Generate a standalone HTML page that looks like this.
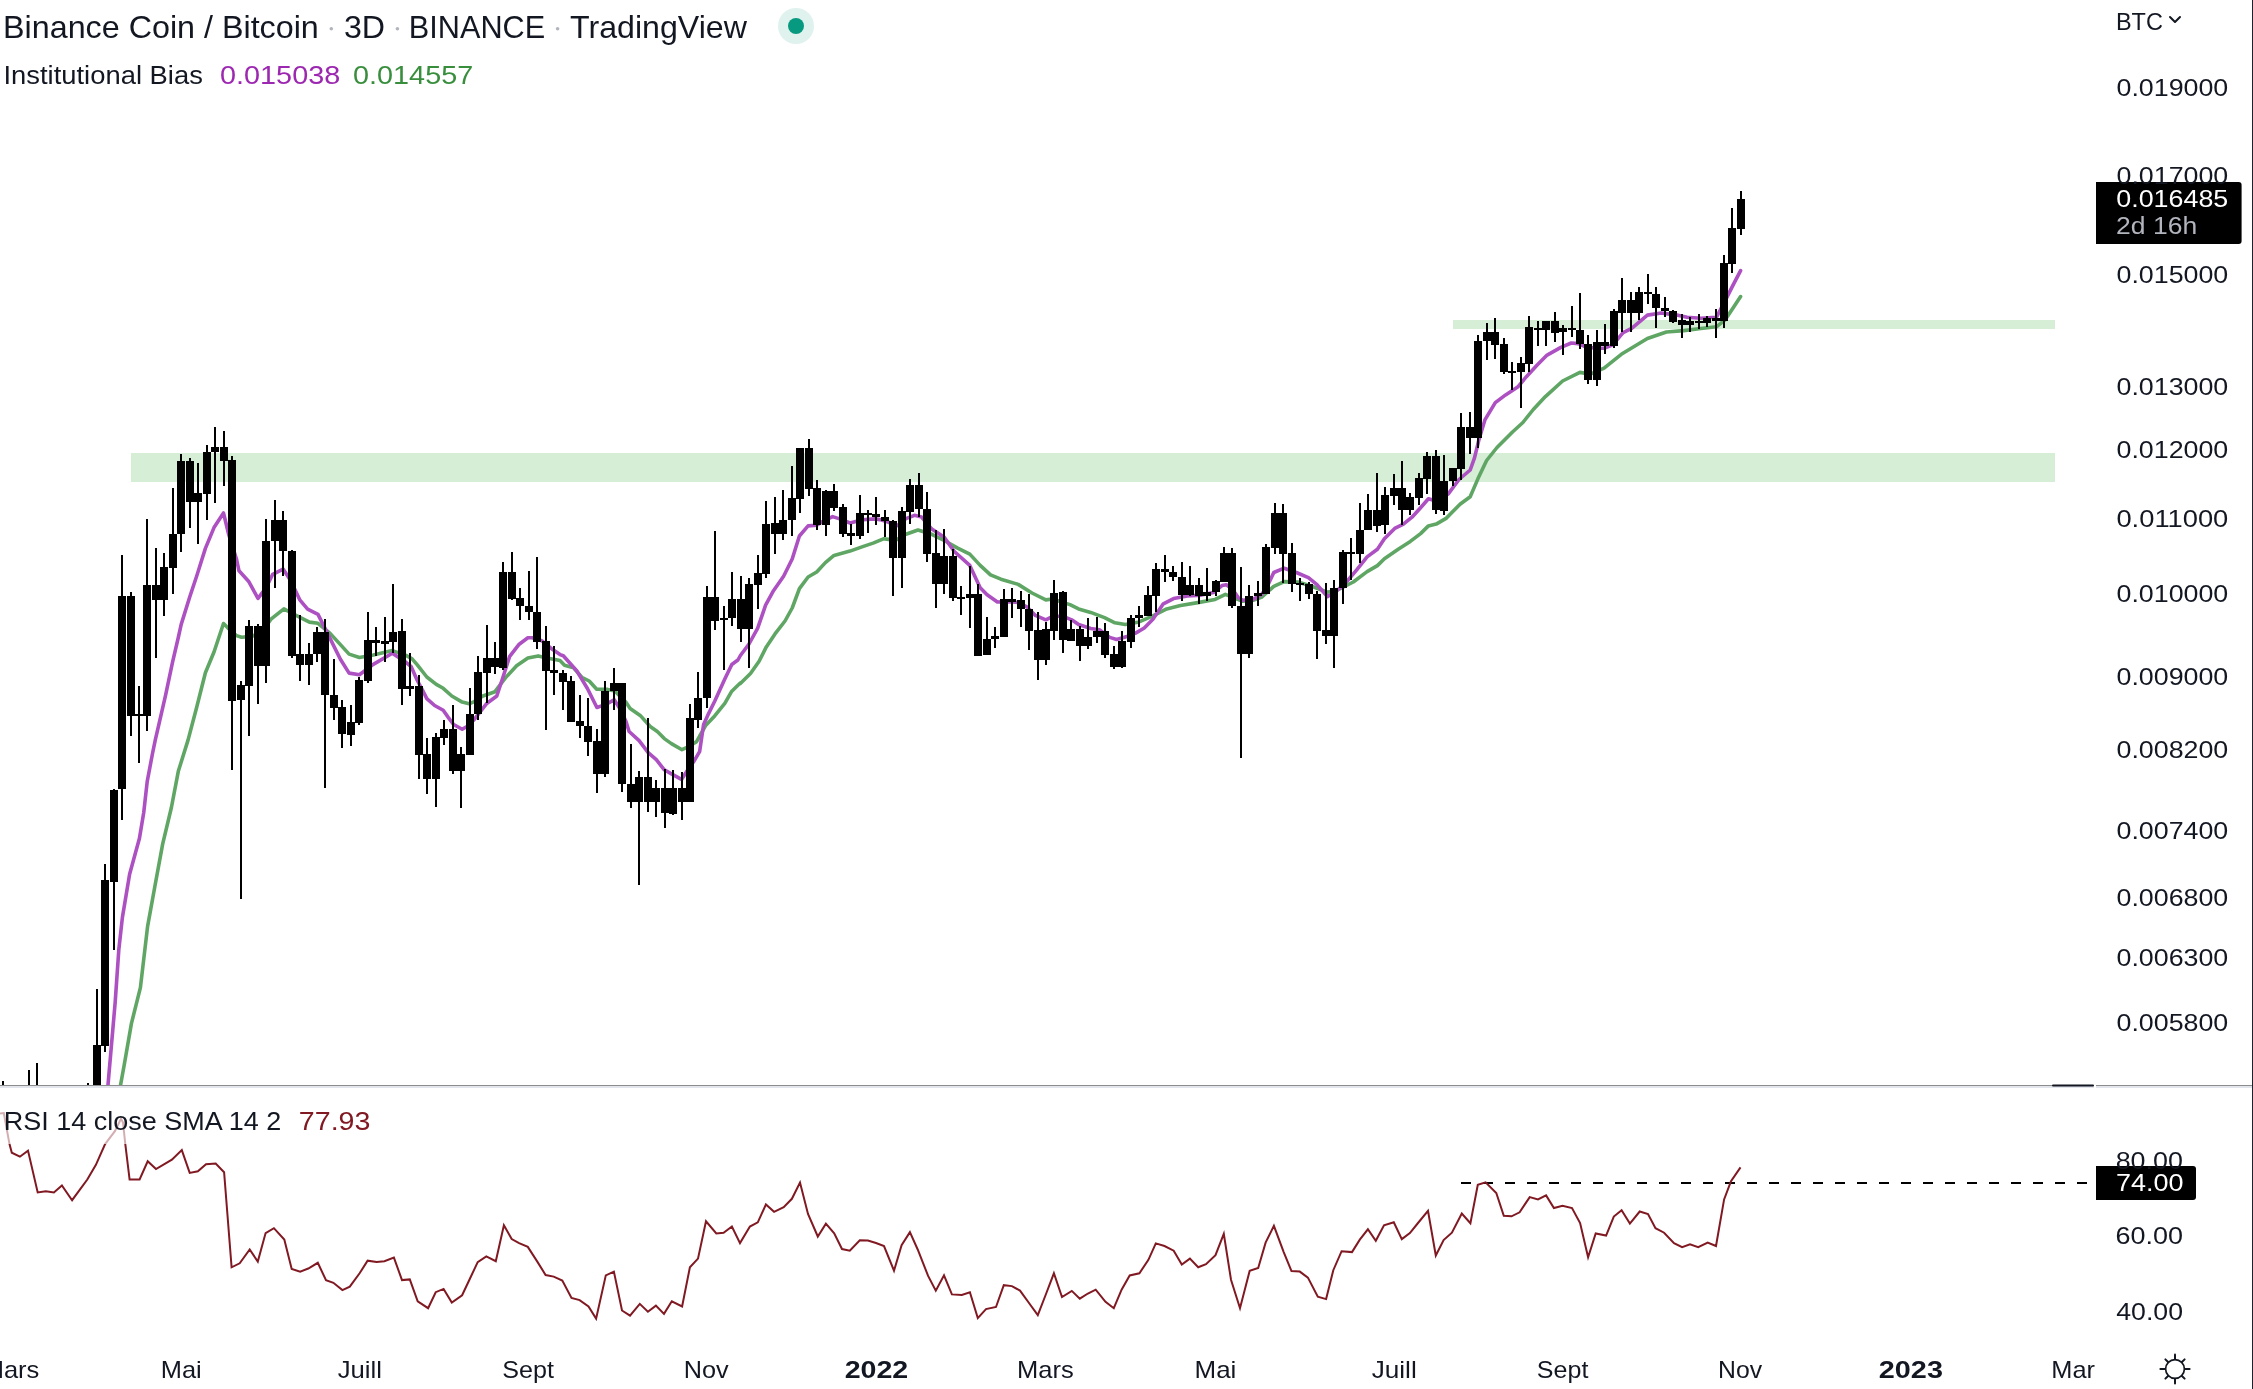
<!DOCTYPE html>
<html><head><meta charset="utf-8"><title>Binance Coin / Bitcoin 3D BINANCE TradingView</title>
<style>html,body{margin:0;padding:0;background:#ffffff;}body{width:2253px;height:1389px;overflow:hidden;position:relative;}svg{position:absolute;left:0;top:0;display:block;will-change:transform;}text{font-family:"Liberation Sans", Arial, sans-serif;}</style>
</head><body>
<svg width="2253" height="1389" viewBox="0 0 2253 1389">
<rect x="0" y="0" width="2253" height="1389" fill="#ffffff"/>
<rect x="131" y="453" width="1924" height="29" fill="#D6EDD6"/>
<rect x="1453" y="320" width="602" height="9" fill="#D6EDD6"/>
<defs><clipPath id="mainclip"><rect x="0" y="0" width="2095" height="1085"/></clipPath><clipPath id="rsiclip"><rect x="0" y="1087" width="2095" height="255"/></clipPath></defs>
<g clip-path="url(#mainclip)">
<polyline points="120.6,1084.8 124.2,1065.0 131.4,1023.6 140.4,987.6 147.6,926.4 154.8,886.8 162.7,843.8 171.4,807.5 178.3,771.3 188.1,739.9 196.7,707.3 205.4,672.7 214.0,652.0 223.5,623.5 227.8,627.8 236.4,635.6 241.6,637.3 252.0,636.4 262.3,631.3 271.0,619.2 283.9,608.8 293.4,614.0 300.0,617.4 309.4,622.1 318.0,623.3 330.1,633.4 349.1,654.1 359.4,657.5 373.3,654.9 392.3,650.6 406.0,655.4 412.1,658.9 417.3,664.9 426.8,677.0 436.3,684.4 443.2,688.3 451.8,696.0 462.2,702.1 469.1,703.8 474.3,701.6 482.9,696.0 495.0,691.7 505.4,677.9 516.6,665.8 527.9,658.0 538.2,655.9 546.9,658.0 560.0,660.6 564.5,665.2 573.6,667.8 581.8,677.3 589.2,681.0 596.7,689.2 607.7,689.4 614.8,691.1 626.0,702.3 630.1,708.4 640.2,715.4 650.2,726.5 657.3,731.5 664.3,738.6 671.4,743.6 682.0,749.7 686.5,747.7 696.6,741.6 705.6,725.5 714.7,715.9 724.8,703.3 731.8,691.2 740.0,683.2 740.4,683.6 750.5,673.5 759.1,661.3 766.3,646.9 775.0,633.9 785.0,621.0 792.2,608.0 799.4,588.6 808.1,577.0 816.7,572.0 825.4,562.6 834.0,555.4 850.0,551.1 862.7,546.6 873.1,543.1 883.4,538.8 888.6,539.4 897.3,539.4 905.9,534.3 918.0,530.0 931.8,534.3 945.6,541.2 957.7,548.1 969.8,554.1 980.2,565.4 990.5,574.9 1000.9,579.2 1018.2,584.4 1032.0,593.0 1045.8,599.9 1052.7,599.0 1063.1,602.5 1070.0,604.6 1078.6,608.9 1090.7,612.4 1104.5,617.6 1114.9,622.8 1125.3,624.5 1139.1,621.9 1152.9,615.9 1166.7,608.9 1180.5,605.5 1197.8,602.6 1215.1,599.4 1225.4,594.3 1235.8,598.6 1242.7,601.2 1253.1,600.3 1262.0,597.0 1273.8,586.3 1284.2,581.6 1298.0,582.0 1311.8,586.3 1327.4,592.3 1337.7,589.8 1353.3,582.0 1367.1,571.6 1377.4,565.6 1384.4,558.7 1398.2,549.2 1410.3,541.4 1420.6,533.6 1428.4,525.9 1436.2,524.1 1446.5,518.1 1452.1,512.3 1460.0,504.3 1470.2,496.8 1478.0,478.6 1486.6,460.5 1497.0,447.5 1512.5,432.0 1522.9,422.5 1533.3,409.5 1545.4,396.6 1562.6,381.0 1579.9,372.4 1590.3,374.1 1604.1,368.1 1621.3,354.3 1647.4,338.5 1666.4,332.0 1683.6,330.6 1700.9,328.5 1716.4,326.8 1725.1,319.9 1733.7,306.9 1740.6,296.6" fill="none" stroke="#5FA664" stroke-width="3.6" stroke-linejoin="round" stroke-linecap="round"/>
<polyline points="108.0,1084.8 115.2,1002.0 118.8,949.8 122.4,917.4 129.6,874.2 139.4,838.6 143.7,812.7 147.2,781.6 152.4,754.0 155.3,739.9 159.3,722.7 165.6,695.2 172.5,662.3 178.3,637.5 181.2,624.4 189.8,596.7 196.7,576.0 205.4,548.4 214.0,527.6 223.5,513.0 228.7,534.5 236.4,558.7 239.0,570.8 248.5,581.2 258.0,598.4 265.8,588.1 272.7,574.3 283.1,569.1 290.0,579.4 300.0,600.2 307.6,609.2 318.0,614.4 328.4,635.1 340.4,659.3 349.1,673.1 359.4,674.8 373.3,664.4 392.3,653.2 406.0,662.3 411.2,666.7 417.3,680.5 422.5,690.0 426.8,698.6 434.6,705.5 443.2,710.3 448.4,717.6 453.6,724.5 462.2,729.3 467.4,726.3 474.3,719.4 480.3,711.6 486.4,703.8 496.8,696.0 501.9,680.5 509.7,656.3 519.2,644.2 527.9,637.7 532.2,637.7 541.7,640.7 551.2,648.5 560.0,654.6 563.3,655.7 577.1,671.3 587.4,688.5 596.9,707.5 604.7,704.9 614.2,699.8 620.3,709.3 626.0,721.5 629.1,731.5 639.1,740.6 648.2,752.7 656.3,759.7 664.3,769.8 671.4,773.9 681.5,779.4 688.5,768.8 693.6,761.8 699.6,751.7 703.6,724.5 707.7,715.4 714.7,701.3 724.8,679.1 731.8,664.5 737.9,660.0 740.4,655.5 749.0,644.0 757.7,628.2 765.6,605.1 773.5,590.7 783.6,576.3 792.2,559.0 799.4,536.0 808.1,525.9 816.7,525.2 822.5,521.6 832.6,516.6 841.2,519.4 850.0,523.0 862.7,519.8 874.8,518.9 880.0,519.6 888.6,522.2 897.3,525.6 905.9,518.7 914.5,515.3 921.5,517.0 931.8,529.1 943.9,536.9 954.3,551.5 969.8,565.4 980.2,587.8 987.1,594.7 997.4,602.0 1009.5,601.6 1018.2,602.5 1026.8,606.8 1035.4,615.4 1045.8,619.8 1052.7,616.3 1063.1,616.3 1071.7,619.8 1078.6,624.5 1090.7,628.5 1099.4,629.7 1109.7,637.4 1116.6,639.5 1127.0,636.6 1135.6,633.1 1144.3,628.0 1152.9,619.3 1163.3,603.8 1173.6,598.6 1187.4,596.0 1201.3,595.1 1213.4,592.5 1222.0,585.6 1226.3,584.8 1232.3,589.1 1238.4,597.7 1242.7,600.3 1253.1,599.4 1261.7,594.3 1266.9,587.2 1273.8,572.5 1284.2,568.2 1296.3,572.5 1308.4,577.7 1317.0,584.6 1327.4,596.7 1336.0,591.5 1346.4,582.0 1356.7,569.9 1367.1,556.9 1377.4,549.2 1384.4,538.8 1394.7,528.4 1403.4,524.1 1412.0,517.2 1420.6,507.7 1428.4,498.7 1432.7,500.0 1439.6,499.1 1448.3,493.9 1459.0,479.5 1470.2,470.0 1474.5,457.9 1478.9,439.8 1484.9,419.9 1495.3,402.6 1505.6,394.9 1517.7,387.1 1526.4,376.7 1536.7,365.5 1547.1,355.1 1560.9,347.4 1571.3,343.0 1578.2,343.6 1585.1,346.5 1595.4,348.2 1604.0,348.2 1612.7,344.8 1623.1,332.7 1631.7,328.4 1647.4,315.1 1661.2,313.0 1676.7,315.1 1687.1,317.3 1700.9,318.2 1716.4,317.3 1725.1,300.9 1732.0,287.1 1740.6,270.7" fill="none" stroke="#AD50C2" stroke-width="3.6" stroke-linejoin="round" stroke-linecap="round"/>
<path d="M1740 191h2v8h-2zM1740 229h2v6h-2zM1737 199h8v30h-8zM1731 208h2v20h-2zM1731 264h2v9h-2zM1728 228h8v36h-8zM1723 255h2v8h-2zM1723 321h2v7h-2zM1720 263h8v58h-8zM1715 309h2v9h-2zM1715 321h2v17h-2zM1712 318h8v3h-8zM1706 316h2v2h-2zM1706 323h2v4h-2zM1703 318h8v5h-8zM1698 314h2v7h-2zM1698 323h2v6h-2zM1695 321h8v2h-8zM1689 317h2v4h-2zM1689 325h2v7h-2zM1686 321h8v4h-8zM1681 314h2v6h-2zM1681 325h2v13h-2zM1678 320h8v5h-8zM1672 310h2v1h-2zM1672 322h2v1h-2zM1669 311h8v11h-8zM1664 297h2v11h-2zM1664 311h2v6h-2zM1661 308h8v3h-8zM1655 287h2v7h-2zM1655 308h2v20h-2zM1652 294h8v14h-8zM1647 274h2v18h-2zM1647 294h2v10h-2zM1644 292h8v2h-8zM1638 287h2v5h-2zM1638 313h2v7h-2zM1635 292h8v21h-8zM1630 292h2v8h-2zM1630 313h2v19h-2zM1627 300h8v13h-8zM1621 278h2v22h-2zM1621 313h2v19h-2zM1618 300h8v13h-8zM1613 309h2v2h-2zM1613 346h2v2h-2zM1610 311h8v35h-8zM1604 324h2v18h-2zM1604 346h2v8h-2zM1601 342h8v4h-8zM1596 330h2v12h-2zM1596 380h2v6h-2zM1593 342h8v38h-8zM1587 335h2v9h-2zM1587 380h2v4h-2zM1584 344h8v36h-8zM1579 293h2v37h-2zM1579 344h2v5h-2zM1576 330h8v14h-8zM1571 306h2v22h-2zM1571 330h2v7h-2zM1568 328h8v2h-8zM1562 325h2v3h-2zM1562 332h2v23h-2zM1559 328h8v4h-8zM1554 312h2v9h-2zM1554 333h2v9h-2zM1551 321h8v12h-8zM1545 330h2v16h-2zM1542 321h8v9h-8zM1537 321h2v7h-2zM1537 330h2v16h-2zM1534 328h8v2h-8zM1528 316h2v11h-2zM1528 364h2v8h-2zM1525 327h8v37h-8zM1520 357h2v6h-2zM1520 372h2v36h-2zM1517 363h8v9h-8zM1511 362h2v9h-2zM1511 373h2v17h-2zM1508 371h8v2h-8zM1503 338h2v6h-2zM1503 372h2v2h-2zM1500 344h8v28h-8zM1494 318h2v14h-2zM1494 345h2v14h-2zM1491 332h8v13h-8zM1486 323h2v9h-2zM1486 341h2v19h-2zM1483 332h8v9h-8zM1477 335h2v6h-2zM1477 438h2v10h-2zM1474 341h8v97h-8zM1469 412h2v15h-2zM1469 438h2v16h-2zM1466 427h8v11h-8zM1460 413h2v14h-2zM1460 469h2v11h-2zM1457 427h8v42h-8zM1452 481h2v5h-2zM1449 468h8v13h-8zM1443 455h2v26h-2zM1443 511h2v4h-2zM1440 481h8v30h-8zM1435 450h2v6h-2zM1435 510h2v4h-2zM1432 456h8v54h-8zM1426 452h2v4h-2zM1426 479h2v15h-2zM1423 456h8v23h-8zM1418 473h2v5h-2zM1418 498h2v7h-2zM1415 478h8v20h-8zM1409 493h2v4h-2zM1409 510h2v5h-2zM1406 497h8v13h-8zM1401 461h2v27h-2zM1401 510h2v15h-2zM1398 488h8v22h-8zM1393 474h2v14h-2zM1393 496h2v9h-2zM1390 488h8v8h-8zM1384 487h2v8h-2zM1384 525h2v9h-2zM1381 495h8v30h-8zM1376 473h2v37h-2zM1376 526h2v6h-2zM1373 510h8v16h-8zM1367 494h2v16h-2zM1364 510h8v20h-8zM1359 503h2v27h-2zM1359 554h2v9h-2zM1356 530h8v24h-8zM1350 538h2v14h-2zM1350 554h2v26h-2zM1347 552h8v2h-8zM1342 550h2v2h-2zM1342 588h2v16h-2zM1339 552h8v36h-8zM1333 580h2v8h-2zM1333 636h2v32h-2zM1330 588h8v48h-8zM1325 583h2v47h-2zM1325 636h2v8h-2zM1322 630h8v6h-8zM1316 591h2v3h-2zM1316 631h2v28h-2zM1313 594h8v37h-8zM1308 582h2v2h-2zM1308 594h2v5h-2zM1305 584h8v10h-8zM1299 578h2v5h-2zM1299 585h2v16h-2zM1296 583h8v2h-8zM1291 543h2v10h-2zM1291 584h2v8h-2zM1288 553h8v31h-8zM1282 504h2v9h-2zM1282 554h2v29h-2zM1279 513h8v41h-8zM1274 503h2v10h-2zM1274 548h2v6h-2zM1271 513h8v35h-8zM1265 544h2v3h-2zM1262 547h8v47h-8zM1257 581h2v12h-2zM1257 596h2v10h-2zM1254 593h8v3h-8zM1248 585h2v11h-2zM1248 654h2v4h-2zM1245 596h8v58h-8zM1240 567h2v39h-2zM1240 654h2v104h-2zM1237 606h8v48h-8zM1231 548h2v5h-2zM1231 606h2v2h-2zM1228 553h8v53h-8zM1223 547h2v6h-2zM1220 553h8v29h-8zM1215 580h2v1h-2zM1215 592h2v4h-2zM1212 581h8v11h-8zM1206 568h2v24h-2zM1206 596h2v5h-2zM1203 592h8v4h-8zM1198 578h2v7h-2zM1198 596h2v8h-2zM1195 585h8v11h-8zM1189 566h2v19h-2zM1189 595h2v1h-2zM1186 585h8v10h-8zM1181 562h2v15h-2zM1181 595h2v6h-2zM1178 577h8v18h-8zM1172 566h2v6h-2zM1172 577h2v4h-2zM1169 572h8v5h-8zM1164 555h2v14h-2zM1164 572h2v10h-2zM1161 569h8v3h-8zM1155 563h2v6h-2zM1155 596h2v16h-2zM1152 569h8v27h-8zM1147 586h2v9h-2zM1144 595h8v21h-8zM1138 606h2v9h-2zM1138 618h2v9h-2zM1135 615h8v3h-8zM1130 615h2v3h-2zM1130 642h2v6h-2zM1127 618h8v24h-8zM1121 631h2v10h-2zM1121 667h2v1h-2zM1118 641h8v26h-8zM1113 646h2v8h-2zM1113 667h2v2h-2zM1110 654h8v13h-8zM1104 623h2v8h-2zM1104 655h2v3h-2zM1101 631h8v24h-8zM1096 617h2v14h-2zM1096 637h2v6h-2zM1093 631h8v6h-8zM1087 618h2v19h-2zM1087 646h2v3h-2zM1084 637h8v9h-8zM1079 626h2v3h-2zM1079 646h2v15h-2zM1076 629h8v17h-8zM1070 620h2v9h-2zM1067 629h8v12h-8zM1062 591h2v1h-2zM1062 640h2v13h-2zM1059 592h8v48h-8zM1053 580h2v13h-2zM1053 631h2v9h-2zM1050 593h8v38h-8zM1045 622h2v7h-2zM1045 660h2v5h-2zM1042 629h8v31h-8zM1037 612h2v18h-2zM1037 660h2v20h-2zM1034 630h8v30h-8zM1028 594h2v15h-2zM1028 631h2v19h-2zM1025 609h8v22h-8zM1020 591h2v9h-2zM1020 609h2v18h-2zM1017 600h8v9h-8zM1011 588h2v11h-2zM1011 602h2v16h-2zM1008 599h8v3h-8zM1003 589h2v10h-2zM1000 599h8v38h-8zM994 627h2v9h-2zM994 639h2v9h-2zM991 636h8v3h-8zM986 617h2v22h-2zM983 639h8v16h-8zM977 584h2v10h-2zM974 594h8v62h-8zM969 566h2v28h-2zM969 598h2v30h-2zM966 594h8v4h-8zM960 586h2v11h-2zM960 599h2v16h-2zM957 597h8v2h-8zM952 549h2v7h-2zM952 598h2v3h-2zM949 556h8v42h-8zM943 529h2v27h-2zM943 584h2v10h-2zM940 556h8v28h-8zM935 530h2v23h-2zM935 584h2v24h-2zM932 553h8v31h-8zM926 492h2v17h-2zM926 554h2v8h-2zM923 509h8v45h-8zM918 473h2v12h-2zM918 509h2v8h-2zM915 485h8v24h-8zM909 479h2v6h-2zM909 512h2v12h-2zM906 485h8v27h-8zM901 507h2v4h-2zM901 558h2v30h-2zM898 511h8v47h-8zM892 520h2v1h-2zM892 558h2v38h-2zM889 521h8v37h-8zM884 510h2v7h-2zM884 521h2v16h-2zM881 517h8v4h-8zM875 497h2v17h-2zM875 517h2v8h-2zM872 514h8v3h-8zM867 510h2v3h-2zM867 515h2v18h-2zM864 513h8v2h-8zM859 495h2v18h-2zM859 536h2v3h-2zM856 513h8v23h-8zM850 524h2v9h-2zM850 536h2v9h-2zM847 533h8v3h-8zM842 504h2v3h-2zM842 534h2v3h-2zM839 507h8v27h-8zM833 484h2v7h-2zM833 508h2v3h-2zM830 491h8v17h-8zM825 490h2v1h-2zM825 525h2v11h-2zM822 491h8v34h-8zM816 480h2v8h-2zM816 525h2v5h-2zM813 488h8v37h-8zM808 439h2v9h-2zM808 489h2v7h-2zM805 448h8v41h-8zM799 499h2v14h-2zM796 448h8v51h-8zM791 466h2v32h-2zM791 520h2v16h-2zM788 498h8v22h-8zM782 490h2v30h-2zM782 534h2v6h-2zM779 520h8v14h-8zM774 497h2v26h-2zM774 534h2v20h-2zM771 523h8v11h-8zM765 501h2v23h-2zM765 574h2v4h-2zM762 524h8v50h-8zM757 555h2v18h-2zM757 585h2v24h-2zM754 573h8v12h-8zM748 578h2v6h-2zM748 629h2v39h-2zM745 584h8v45h-8zM740 576h2v23h-2zM740 629h2v13h-2zM737 599h8v30h-8zM731 572h2v27h-2zM731 618h2v8h-2zM728 599h8v19h-8zM723 606h2v12h-2zM723 620h2v50h-2zM720 618h8v2h-8zM714 531h2v66h-2zM714 621h2v9h-2zM711 597h8v24h-8zM706 586h2v11h-2zM706 698h2v10h-2zM703 597h8v101h-8zM697 672h2v26h-2zM697 720h2v8h-2zM694 698h8v22h-8zM689 704h2v14h-2zM686 718h8v84h-8zM681 772h2v16h-2zM681 802h2v18h-2zM678 788h8v14h-8zM672 770h2v18h-2zM672 814h2v1h-2zM669 788h8v26h-8zM664 769h2v19h-2zM664 813h2v15h-2zM661 788h8v25h-8zM655 780h2v8h-2zM655 802h2v15h-2zM652 788h8v14h-8zM647 718h2v59h-2zM647 802h2v10h-2zM644 777h8v25h-8zM638 771h2v6h-2zM638 802h2v83h-2zM635 777h8v25h-8zM630 744h2v40h-2zM630 802h2v6h-2zM627 784h8v18h-8zM621 784h2v8h-2zM618 683h8v101h-8zM613 668h2v15h-2zM613 691h2v19h-2zM610 683h8v8h-8zM604 681h2v10h-2zM604 774h2v3h-2zM601 691h8v83h-8zM596 729h2v12h-2zM596 774h2v19h-2zM593 741h8v33h-8zM587 698h2v28h-2zM587 742h2v14h-2zM584 726h8v16h-8zM579 695h2v26h-2zM579 726h2v12h-2zM576 721h8v5h-8zM570 676h2v5h-2zM567 681h8v41h-8zM562 670h2v3h-2zM562 682h2v28h-2zM559 673h8v9h-8zM553 646h2v24h-2zM553 673h2v22h-2zM550 670h8v3h-8zM545 626h2v15h-2zM545 671h2v59h-2zM542 641h8v30h-8zM536 557h2v55h-2zM536 642h2v7h-2zM533 612h8v30h-8zM528 571h2v35h-2zM528 612h2v8h-2zM525 606h8v6h-8zM519 588h2v10h-2zM519 606h2v14h-2zM516 598h8v8h-8zM511 552h2v20h-2zM511 599h2v1h-2zM508 572h8v27h-8zM502 562h2v10h-2zM502 668h2v2h-2zM499 572h8v96h-8zM494 642h2v16h-2zM494 667h2v7h-2zM491 658h8v9h-8zM486 625h2v33h-2zM486 673h2v30h-2zM483 658h8v15h-8zM477 656h2v16h-2zM477 714h2v6h-2zM474 672h8v42h-8zM469 688h2v26h-2zM466 714h8v41h-8zM460 747h2v7h-2zM460 771h2v37h-2zM457 754h8v17h-8zM452 705h2v24h-2zM452 771h2v3h-2zM449 729h8v42h-8zM443 720h2v9h-2zM443 738h2v7h-2zM440 729h8v9h-8zM435 733h2v4h-2zM435 779h2v28h-2zM432 737h8v42h-8zM426 738h2v16h-2zM426 779h2v15h-2zM423 754h8v25h-8zM418 675h2v11h-2zM418 755h2v24h-2zM415 686h8v69h-8zM409 653h2v33h-2zM409 689h2v7h-2zM406 686h8v3h-8zM401 619h2v12h-2zM401 689h2v16h-2zM398 631h8v58h-8zM392 584h2v48h-2zM392 642h2v11h-2zM389 632h8v10h-8zM384 617h2v24h-2zM384 644h2v18h-2zM381 641h8v3h-8zM375 627h2v13h-2zM375 643h2v13h-2zM372 640h8v3h-8zM367 612h2v28h-2zM367 681h2v2h-2zM364 640h8v41h-8zM358 677h2v3h-2zM358 723h2v2h-2zM355 680h8v43h-8zM350 705h2v17h-2zM350 735h2v11h-2zM347 722h8v13h-8zM341 700h2v7h-2zM341 734h2v14h-2zM338 707h8v27h-8zM333 659h2v36h-2zM333 708h2v12h-2zM330 695h8v13h-8zM324 619h2v13h-2zM324 695h2v93h-2zM321 632h8v63h-8zM316 627h2v5h-2zM316 654h2v8h-2zM313 632h8v22h-8zM308 643h2v11h-2zM308 665h2v20h-2zM305 654h8v11h-8zM299 615h2v39h-2zM299 665h2v16h-2zM296 654h8v11h-8zM291 550h2v1h-2zM291 656h2v2h-2zM288 551h8v105h-8zM282 511h2v9h-2zM282 551h2v25h-2zM279 520h8v31h-8zM274 500h2v20h-2zM274 541h2v47h-2zM271 520h8v21h-8zM265 519h2v22h-2zM265 666h2v17h-2zM262 541h8v125h-8zM257 624h2v2h-2zM257 666h2v38h-2zM254 626h8v40h-8zM248 620h2v6h-2zM248 686h2v50h-2zM245 626h8v60h-8zM240 681h2v4h-2zM240 700h2v199h-2zM237 685h8v15h-8zM231 456h2v4h-2zM231 701h2v69h-2zM228 460h8v241h-8zM223 431h2v16h-2zM223 461h2v25h-2zM220 447h8v14h-8zM214 427h2v20h-2zM214 452h2v51h-2zM211 447h8v5h-8zM206 445h2v7h-2zM206 494h2v26h-2zM203 452h8v42h-8zM197 463h2v30h-2zM197 502h2v42h-2zM194 493h8v9h-8zM189 458h2v3h-2zM189 502h2v26h-2zM186 461h8v41h-8zM180 454h2v7h-2zM180 534h2v18h-2zM177 461h8v73h-8zM172 488h2v46h-2zM172 568h2v26h-2zM169 534h8v34h-8zM163 553h2v14h-2zM163 600h2v16h-2zM160 567h8v33h-8zM155 548h2v37h-2zM155 600h2v58h-2zM152 585h8v15h-8zM146 519h2v66h-2zM146 716h2v15h-2zM143 585h8v131h-8zM138 686h2v28h-2zM138 716h2v47h-2zM135 714h8v2h-8zM130 592h2v4h-2zM130 716h2v20h-2zM127 596h8v120h-8zM121 555h2v41h-2zM121 789h2v31h-2zM118 596h8v193h-8zM113 789h2v1h-2zM113 882h2v68h-2zM110 790h8v92h-8zM104 864h2v16h-2zM104 1046h2v6h-2zM101 880h8v166h-8zM96 989h2v56h-2zM93 1045h8v45h-8zM87 1083h2v3h-2zM84 1086h8v2h-8zM36 1063h2v22h-2zM33 1085h8v2h-8zM28 1070h2v15h-2zM25 1085h8v2h-8zM2 1081h2v4h-2zM-1 1085h8v2h-8z" fill="#000000"/>
</g>
<rect x="0" y="1085" width="2253" height="1" fill="#8C8C8C"/>
<rect x="0" y="1086" width="2253" height="2" fill="#E2E5EC"/>
<rect x="2052" y="1084.5" width="42" height="2" rx="1" fill="#131722"/>
<rect x="2094" y="1084" width="2" height="4" fill="#ffffff"/>
<line x1="1461" y1="1183" x2="2088" y2="1183" stroke="#000000" stroke-width="2" stroke-dasharray="10 12"/>
<g clip-path="url(#rsiclip)">
<polyline points="0.0,1113.5 3.8,1113.0 9.5,1144.1 11.8,1152.7 19.9,1156.7 28.0,1150.6 37.7,1192.4 45.8,1191.2 53.9,1192.4 61.9,1185.5 72.1,1200.2 79.5,1190.2 87.3,1179.5 95.9,1164.8 105.1,1144.1 114.9,1131.1 121.0,1118.7 123.0,1122.5 125.3,1144.1 129.6,1179.5 139.6,1179.5 147.7,1161.3 156.0,1169.1 171.9,1159.6 181.8,1150.1 189.7,1172.9 197.9,1171.2 206.0,1164.3 215.7,1163.6 224.1,1172.2 231.6,1267.3 239.7,1263.3 249.7,1249.5 257.8,1261.6 265.6,1233.1 273.9,1228.2 284.3,1239.6 291.7,1269.0 300.2,1271.6 308.3,1268.5 317.8,1262.8 326.0,1280.2 333.4,1282.8 342.4,1290.1 349.8,1286.6 359.6,1273.3 367.6,1260.7 376.6,1262.1 384.4,1261.2 393.9,1257.6 402.0,1280.1 409.8,1279.4 417.7,1301.3 428.1,1308.2 435.7,1292.2 443.6,1288.9 451.8,1302.5 462.1,1295.3 470.0,1278.5 477.7,1262.1 486.3,1256.4 495.8,1261.2 503.9,1225.3 511.7,1239.1 519.1,1243.1 527.8,1246.9 537.3,1261.6 545.6,1275.0 553.7,1276.6 562.3,1280.6 571.5,1297.9 579.6,1300.1 588.5,1306.5 596.1,1318.6 605.8,1275.4 613.9,1271.6 622.0,1310.5 630.0,1315.7 639.8,1303.9 647.9,1311.7 655.9,1305.6 664.0,1313.9 671.8,1301.3 682.1,1306.5 689.9,1267.3 698.0,1258.6 706.0,1221.3 716.3,1233.4 723.6,1232.7 731.9,1226.5 740.0,1243.1 749.9,1226.5 757.8,1222.3 765.9,1204.5 774.1,1211.8 783.7,1207.1 791.9,1198.8 800.0,1182.6 808.0,1214.0 817.8,1236.5 825.9,1223.6 834.2,1233.4 842.0,1249.0 849.8,1250.7 859.8,1240.3 867.9,1240.5 876.0,1243.0 884.0,1246.0 894.0,1270.7 901.6,1245.2 909.9,1232.2 917.7,1249.5 928.1,1275.9 935.8,1290.6 944.0,1275.4 951.9,1294.4 961.8,1294.9 969.9,1292.3 977.8,1318.1 986.0,1309.1 996.0,1307.0 1003.8,1285.2 1011.9,1286.1 1020.0,1290.6 1029.0,1303.0 1037.8,1315.1 1046.0,1294.0 1053.9,1273.3 1062.0,1297.0 1071.8,1290.9 1079.8,1298.7 1087.9,1293.5 1095.7,1289.7 1105.5,1301.8 1113.8,1308.2 1121.6,1289.7 1129.7,1275.4 1139.4,1273.3 1148.4,1259.8 1155.8,1243.4 1164.5,1246.0 1173.7,1250.7 1181.8,1264.5 1189.9,1258.6 1198.2,1267.3 1206.0,1264.2 1215.5,1255.2 1223.8,1233.9 1231.0,1279.7 1240.0,1308.2 1249.7,1270.7 1258.2,1268.0 1265.6,1242.6 1273.9,1225.8 1283.7,1252.1 1291.5,1271.1 1299.8,1271.6 1307.9,1277.6 1317.8,1296.6 1326.1,1299.1 1333.3,1270.2 1341.6,1251.2 1352.0,1252.1 1359.8,1239.6 1367.9,1229.3 1375.8,1240.8 1384.0,1225.3 1393.8,1222.2 1401.8,1239.1 1409.9,1233.1 1418.0,1223.0 1428.0,1210.9 1435.8,1255.5 1443.6,1240.0 1451.9,1232.7 1461.8,1213.5 1470.4,1223.2 1477.8,1184.7 1485.6,1182.4 1496.3,1193.0 1503.8,1215.8 1511.5,1216.3 1519.6,1212.3 1529.7,1197.1 1538.0,1199.4 1546.1,1195.4 1553.9,1208.0 1562.5,1205.8 1572.0,1208.0 1580.1,1223.0 1588.1,1257.3 1595.7,1233.4 1606.1,1235.6 1613.8,1216.6 1621.6,1210.2 1629.9,1223.6 1639.7,1211.5 1648.0,1214.0 1655.5,1228.2 1664.1,1232.7 1674.0,1243.1 1682.1,1247.2 1690.0,1244.3 1698.2,1247.2 1707.7,1242.6 1716.0,1246.0 1724.1,1199.4 1731.0,1181.2 1740.5,1167.4" fill="none" stroke="#801922" stroke-width="2" stroke-linejoin="miter" stroke-miterlimit="4"/>
</g>
<rect x="0" y="1098" width="378" height="46" fill="#ffffff" fill-opacity="0.65"/>
<rect x="2252" y="0" width="1" height="1389" fill="#1E222D"/>
<circle cx="331.3" cy="28.8" r="1.8" fill="#B2B5BE"/>
<circle cx="397.4" cy="28.8" r="1.8" fill="#B2B5BE"/>
<circle cx="557.6" cy="28.8" r="1.8" fill="#B2B5BE"/>
<circle cx="796" cy="26" r="18" fill="#E0F2EE"/>
<circle cx="796" cy="26" r="8" fill="#089981"/>
<polyline points="2170,17 2175,22 2180,17" fill="none" stroke="#131722" stroke-width="2" stroke-linecap="round" stroke-linejoin="round"/>
<path d="M2096 182H2238.6a3 3 0 0 1 3 3V241a3 3 0 0 1 -3 3H2096Z" fill="#000000"/>
<path d="M2096 1166H2193a3 3 0 0 1 3 3V1197a3 3 0 0 1 -3 3H2096Z" fill="#000000"/>
<text x="3.08" y="38.2" font-size="30.5" fill="#131722" font-weight="400" textLength="315.73" lengthAdjust="spacingAndGlyphs">Binance Coin / Bitcoin</text>
<text x="343.99" y="38.2" font-size="30.5" fill="#131722" font-weight="400" textLength="41.12" lengthAdjust="spacingAndGlyphs">3D</text>
<text x="408.80" y="38.2" font-size="30.5" fill="#131722" font-weight="400" textLength="136.39" lengthAdjust="spacingAndGlyphs">BINANCE</text>
<text x="570.10" y="38.2" font-size="30.5" fill="#131722" font-weight="400" textLength="176.81" lengthAdjust="spacingAndGlyphs">TradingView</text>
<text x="3.46" y="83.9" font-size="26.0" fill="#131722" font-weight="400" textLength="199.40" lengthAdjust="spacingAndGlyphs">Institutional Bias</text>
<text x="220.10" y="83.9" font-size="26.0" fill="#9C27B0" font-weight="400" textLength="120.07" lengthAdjust="spacingAndGlyphs">0.015038</text>
<text x="353.10" y="83.9" font-size="26.0" fill="#388E3C" font-weight="400" textLength="120.07" lengthAdjust="spacingAndGlyphs">0.014557</text>
<text x="2115.90" y="29.9" font-size="23.5" fill="#131722" font-weight="400" textLength="46.97" lengthAdjust="spacingAndGlyphs">BTC</text>
<text x="2116.47" y="96.3" font-size="23.5" fill="#131722" font-weight="400" textLength="111.82" lengthAdjust="spacingAndGlyphs">0.019000</text>
<text x="2116.47" y="184.0" font-size="23.5" fill="#131722" font-weight="400" textLength="111.82" lengthAdjust="spacingAndGlyphs">0.017000</text>
<text x="2116.47" y="282.6" font-size="23.5" fill="#131722" font-weight="400" textLength="111.82" lengthAdjust="spacingAndGlyphs">0.015000</text>
<text x="2116.47" y="395.3" font-size="23.5" fill="#131722" font-weight="400" textLength="111.82" lengthAdjust="spacingAndGlyphs">0.013000</text>
<text x="2116.47" y="458.4" font-size="23.5" fill="#131722" font-weight="400" textLength="111.82" lengthAdjust="spacingAndGlyphs">0.012000</text>
<text x="2116.45" y="526.9" font-size="23.5" fill="#131722" font-weight="400" textLength="111.86" lengthAdjust="spacingAndGlyphs">0.011000</text>
<text x="2116.47" y="602.0" font-size="23.5" fill="#131722" font-weight="400" textLength="111.82" lengthAdjust="spacingAndGlyphs">0.010000</text>
<text x="2116.47" y="685.0" font-size="23.5" fill="#131722" font-weight="400" textLength="111.82" lengthAdjust="spacingAndGlyphs">0.009000</text>
<text x="2116.47" y="758.3" font-size="23.5" fill="#131722" font-weight="400" textLength="111.82" lengthAdjust="spacingAndGlyphs">0.008200</text>
<text x="2116.47" y="839.2" font-size="23.5" fill="#131722" font-weight="400" textLength="111.82" lengthAdjust="spacingAndGlyphs">0.007400</text>
<text x="2116.47" y="905.8" font-size="23.5" fill="#131722" font-weight="400" textLength="111.82" lengthAdjust="spacingAndGlyphs">0.006800</text>
<text x="2116.47" y="966.0" font-size="23.5" fill="#131722" font-weight="400" textLength="111.82" lengthAdjust="spacingAndGlyphs">0.006300</text>
<text x="2116.47" y="1031.1" font-size="23.5" fill="#131722" font-weight="400" textLength="111.82" lengthAdjust="spacingAndGlyphs">0.005800</text>
<text x="2115.65" y="1168.6" font-size="23.5" fill="#131722" font-weight="400" textLength="67.34" lengthAdjust="spacingAndGlyphs">80.00</text>
<text x="2115.54" y="1244.1" font-size="23.5" fill="#131722" font-weight="400" textLength="67.46" lengthAdjust="spacingAndGlyphs">60.00</text>
<text x="2116.23" y="1319.8" font-size="23.5" fill="#131722" font-weight="400" textLength="66.75" lengthAdjust="spacingAndGlyphs">40.00</text>
<text x="3.85" y="1129.7" font-size="25.0" fill="#131722" font-weight="400" textLength="277.44" lengthAdjust="spacingAndGlyphs">RSI 14 close SMA 14 2</text>
<text x="298.83" y="1129.7" font-size="25.0" fill="#801922" font-weight="400" textLength="71.62" lengthAdjust="spacingAndGlyphs">77.93</text>
<text x="-17.32" y="1377.8" font-size="24.0" fill="#131722" font-weight="400" textLength="56.67" lengthAdjust="spacingAndGlyphs">Mars</text>
<text x="160.79" y="1377.8" font-size="24.0" fill="#131722" font-weight="400" textLength="40.93" lengthAdjust="spacingAndGlyphs">Mai</text>
<text x="337.68" y="1377.8" font-size="24.0" fill="#131722" font-weight="400" textLength="44.26" lengthAdjust="spacingAndGlyphs">Juill</text>
<text x="502.35" y="1377.8" font-size="24.0" fill="#131722" font-weight="400" textLength="51.62" lengthAdjust="spacingAndGlyphs">Sept</text>
<text x="683.80" y="1377.8" font-size="24.0" fill="#131722" font-weight="400" textLength="44.90" lengthAdjust="spacingAndGlyphs">Nov</text>
<text x="844.65" y="1377.8" font-size="24.0" fill="#131722" font-weight="700" textLength="63.58" lengthAdjust="spacingAndGlyphs">2022</text>
<text x="1016.98" y="1377.8" font-size="24.0" fill="#131722" font-weight="400" textLength="56.67" lengthAdjust="spacingAndGlyphs">Mars</text>
<text x="1194.55" y="1377.8" font-size="24.0" fill="#131722" font-weight="400" textLength="41.81" lengthAdjust="spacingAndGlyphs">Mai</text>
<text x="1371.67" y="1377.8" font-size="24.0" fill="#131722" font-weight="400" textLength="45.10" lengthAdjust="spacingAndGlyphs">Juill</text>
<text x="1536.86" y="1377.8" font-size="24.0" fill="#131722" font-weight="400" textLength="51.52" lengthAdjust="spacingAndGlyphs">Sept</text>
<text x="1718.04" y="1377.8" font-size="24.0" fill="#131722" font-weight="400" textLength="44.06" lengthAdjust="spacingAndGlyphs">Nov</text>
<text x="1878.84" y="1377.8" font-size="24.0" fill="#131722" font-weight="700" textLength="64.08" lengthAdjust="spacingAndGlyphs">2023</text>
<text x="2051.29" y="1377.8" font-size="24.0" fill="#131722" font-weight="400" textLength="43.72" lengthAdjust="spacingAndGlyphs">Mar</text>
<text x="2116.27" y="207.0" font-size="23.5" fill="#ffffff" font-weight="400" textLength="112.04" lengthAdjust="spacingAndGlyphs">0.016485</text>
<text x="2116.06" y="234.4" font-size="23.5" fill="#B2B5BE" font-weight="400" textLength="81.10" lengthAdjust="spacingAndGlyphs">2d 16h</text>
<text x="2115.92" y="1191.2" font-size="23.5" fill="#ffffff" font-weight="400" textLength="67.58" lengthAdjust="spacingAndGlyphs">74.00</text>
<g stroke="#131722" stroke-width="2" stroke-linecap="round" fill="none"><circle cx="2175" cy="1369" r="9.4" stroke-width="1.7"/><line x1="2184.80" y1="1369.00" x2="2189.60" y2="1369.00"/><line x1="2181.93" y1="1375.93" x2="2184.62" y2="1378.62"/><line x1="2175.00" y1="1378.80" x2="2175.00" y2="1383.60"/><line x1="2168.07" y1="1375.93" x2="2165.38" y2="1378.62"/><line x1="2165.20" y1="1369.00" x2="2160.40" y2="1369.00"/><line x1="2168.07" y1="1362.07" x2="2165.38" y2="1359.38"/><line x1="2175.00" y1="1359.20" x2="2175.00" y2="1354.40"/><line x1="2181.93" y1="1362.07" x2="2184.62" y2="1359.38"/></g>
</svg>
</body></html>
